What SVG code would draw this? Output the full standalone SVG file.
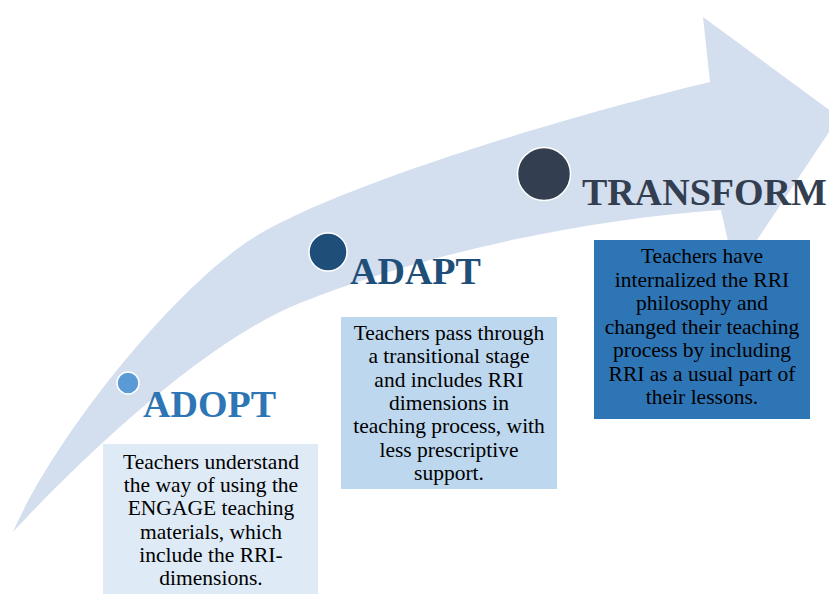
<svg xmlns="http://www.w3.org/2000/svg" width="829" height="594" viewBox="0 0 829 594">
<style>
.title{font-family:"Liberation Serif","Times New Roman",serif;font-weight:bold;font-size:38px}
.body{font-family:"Liberation Serif","Times New Roman",serif;font-size:21.5px;fill:#000;text-anchor:middle}
.dot{stroke:#fff;stroke-width:1.5}
</style>
<rect width="829" height="594" fill="#fff"/>
<g id="arrow">
<path d="M13,532 C55,436 171,292 250,240 C330,188 560,118 710,82 L703,17 L839,117 L735,273 L721,210 C590,219 430,251 300,303 C200,343 73,467 13,532 Z" fill="#D3DEEF"/>
</g>
<g id="adopt">
<circle class="dot" cx="128" cy="383" r="11" fill="#5B9BD5"/>
<text class="title" x="143" y="417" fill="#2E75B6">ADOPT</text>
<rect x="103" y="444" width="215" height="150" fill="#DEEAF6"/>
<text class="body" x="211" y="469">Teachers understand</text>
<text class="body" x="211" y="492.2">the way of using the</text>
<text class="body" x="211" y="515.4">ENGAGE teaching</text>
<text class="body" x="211" y="538.6">materials, which</text>
<text class="body" x="211" y="561.8">include the RRI-</text>
<text class="body" x="211" y="585">dimensions.</text>
</g>
<g id="adapt">
<circle class="dot" cx="328" cy="252" r="19" fill="#1F4E79"/>
<text class="title" x="350" y="284" fill="#1F4E79">ADAPT</text>
<rect x="341" y="317" width="216" height="172" fill="#BDD7EE"/>
<text class="body" x="449" y="340">Teachers pass through</text>
<text class="body" x="449" y="363.3">a transitional stage</text>
<text class="body" x="449" y="386.6">and includes RRI</text>
<text class="body" x="449" y="410">dimensions  in</text>
<text class="body" x="449" y="433.3">teaching process, with</text>
<text class="body" x="449" y="456.6">less prescriptive</text>
<text class="body" x="449" y="480">support.</text>
</g>
<g id="transform">
<circle class="dot" cx="544" cy="174" r="26.5" fill="#333F50"/>
<text class="title" x="582" y="205" fill="#333F50">TRANSFORM</text>
<rect x="594" y="240" width="216" height="179" fill="#2E75B6"/>
<text class="body" x="702" y="263">Teachers have</text>
<text class="body" x="702" y="286.5">internalized the RRI</text>
<text class="body" x="702" y="310">philosophy  and</text>
<text class="body" x="702" y="333.5">changed their teaching</text>
<text class="body" x="702" y="357">process by including</text>
<text class="body" x="702" y="380.5">RRI as a usual part of</text>
<text class="body" x="702" y="404">their lessons.</text>
</g>
</svg>
